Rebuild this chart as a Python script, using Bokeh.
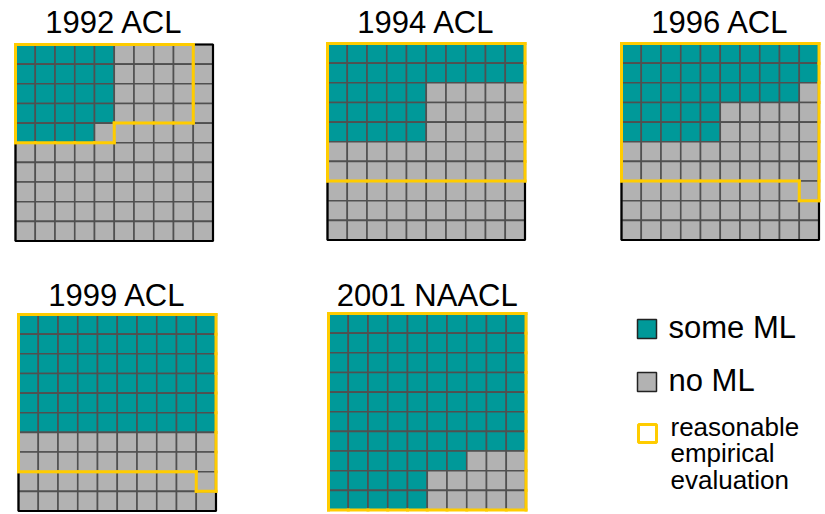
from bokeh.plotting import figure
from bokeh.models import Range1d, ColumnDataSource
from bokeh.core.properties import value
from bokeh.embed import file_html
from bokeh.resources import INLINE

# ---------------- data ----------------
titles = ["1992 ACL", "1994 ACL", "1996 ACL", "1999 ACL", "2001 NAACL"]

# number of "some ML" cells in each of the 10 rows (left-aligned)
ml_1992 = [5, 5, 5, 5, 4, 0, 0, 0, 0, 0]
ml_1994 = [10, 10, 5, 5, 5, 0, 0, 0, 0, 0]
ml_1996 = [10, 10, 9, 5, 5, 0, 0, 0, 0, 0]
ml_1999 = [10, 10, 10, 10, 10, 10, 0, 0, 0, 0]
ml_2001 = [10, 10, 10, 10, 10, 10, 10, 7, 5, 5]

# "reasonable empirical evaluation" region: (first col, end col) per row, None = empty
ev_1992 = [(0, 9), (0, 9), (0, 9), (0, 9), (0, 5), None, None, None, None, None]
ev_1994 = [(0, 10)] * 7 + [None, None, None]
ev_1996 = [(0, 10)] * 7 + [(9, 10), None, None]
ev_1999 = [(0, 10)] * 8 + [(9, 10), None]
ev_2001 = [(0, 10)] * 10

ml_rows = [ml_1992, ml_1994, ml_1996, ml_1999, ml_2001]
ev_rows = [ev_1992, ev_1994, ev_1996, ev_1999, ev_2001]

legend_labels = ["some ML", "no ML", "reasonable\nempirical\nevaluation"]

# ---------------- style / layout ----------------
TEAL = "#009999"
GRAY = "#B2B2B2"
GRID = "#505050"
YELLOW = "#FFCC00"
FONT = value("Liberation Sans")

# panel origins (left, top) and cell size in page pixels
origins = [(15, 44), (327, 43), (621, 43), (18, 314), (328, 313)]
CW, CH = 19.75, 19.65
title_baselines = [22, 22, 22, 295, 295]

W, H = 825, 514
p = figure(width=W, height=H, output_backend="svg", toolbar_location=None,
           x_range=Range1d(0, W), y_range=Range1d(H, 0),
           min_border=0, outline_line_color=None)
p.axis.visible = False
p.grid.visible = False
p.background_fill_color = "white"

for k in range(5):
    x0, y0 = origins[k]
    left, right, top, bottom, colors = [], [], [], [], []
    for r in range(10):
        for c in range(10):
            left.append(x0 + c * CW)
            right.append(x0 + (c + 1) * CW)
            top.append(y0 + r * CH)
            bottom.append(y0 + (r + 1) * CH)
            colors.append(TEAL if c < ml_rows[k][r] else GRAY)
    src = ColumnDataSource(dict(left=left, right=right, top=top, bottom=bottom, color=colors))
    p.quad(left="left", right="right", top="top", bottom="bottom", source=src,
           fill_color="color", line_color=GRID, line_width=1.6)
    # outer border
    p.quad(left=[x0], right=[x0 + 10 * CW], top=[y0], bottom=[y0 + 10 * CH],
           fill_color=None, line_color="black", line_width=2.2)

    # evaluation region outline: boundary edges of the cell set
    cells = set()
    for r, span in enumerate(ev_rows[k]):
        if span is not None:
            for c in range(span[0], span[1]):
                cells.add((r, c))
    sx0, sy0, sx1, sy1 = [], [], [], []
    for (r, c) in cells:
        xl, xr = x0 + c * CW, x0 + (c + 1) * CW
        yt, yb = y0 + r * CH, y0 + (r + 1) * CH
        if (r - 1, c) not in cells:
            sx0.append(xl); sy0.append(yt); sx1.append(xr); sy1.append(yt)
        if (r + 1, c) not in cells:
            sx0.append(xl); sy0.append(yb); sx1.append(xr); sy1.append(yb)
        if (r, c - 1) not in cells:
            sx0.append(xl); sy0.append(yt); sx1.append(xl); sy1.append(yb)
        if (r, c + 1) not in cells:
            sx0.append(xr); sy0.append(yt); sx1.append(xr); sy1.append(yb)
    p.segment(x0=sx0, y0=sy0, x1=sx1, y1=sy1, line_color=YELLOW,
              line_width=3, line_cap="square")

    p.text(x=[x0 + 5 * CW], y=[title_baselines[k]], text=[titles[k]],
           text_font=FONT, text_font_size="31px", text_align="center",
           text_baseline="alphabetic", text_color="black")

# ---------------- legend ----------------
# swatches
p.quad(left=[637], right=[656], top=[319], bottom=[338], fill_color=TEAL,
       line_color="#222222", line_width=1.5)
p.quad(left=[637], right=[656], top=[372], bottom=[391], fill_color=GRAY,
       line_color="#222222", line_width=1.5)
p.quad(left=[638], right=[656], top=[424], bottom=[442], fill_color="white",
       line_color=YELLOW, line_width=3)

p.text(x=[668], y=[327], text=[legend_labels[0]], text_font=FONT,
       text_font_size="31px", text_baseline="alphabetic", text_color="black")
p.text(x=[668], y=[380], text=[legend_labels[1]], text_font=FONT,
       text_font_size="31px", text_baseline="alphabetic", text_color="black")
for i, line in enumerate(legend_labels[2].split("\n")):
    p.text(x=[670], y=[426 + i * 26.5], text=[line], text_font=FONT,
           text_font_size="26px", text_baseline="alphabetic", text_color="black")

open("out.html", "w").write(file_html(p, INLINE))
